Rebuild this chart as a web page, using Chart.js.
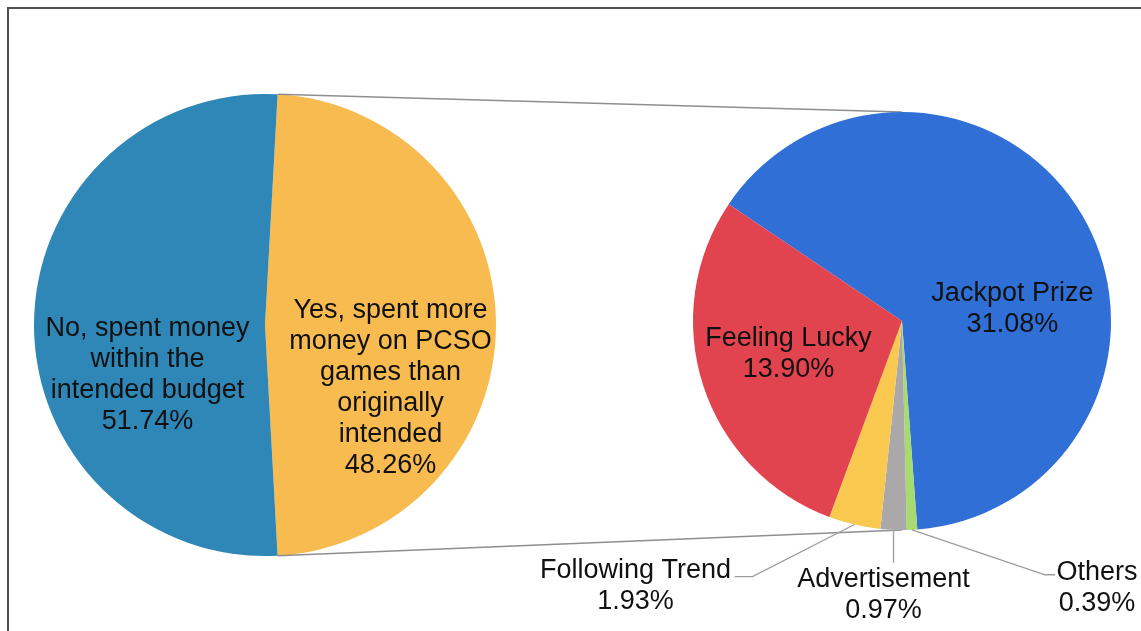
<!DOCTYPE html>
<html>
<head>
<meta charset="utf-8">
<script src="https://cdn.jsdelivr.net/npm/chart.js@4.4.1/dist/chart.umd.min.js"></script>
<style>
  html, body { margin: 0; padding: 0; background: #fff; overflow: hidden; }
  #wrap { position: relative; width: 1141px; height: 631px; overflow: hidden; }
  #frame { position: absolute; left: 7px; top: 7px; width: 1200px; height: 700px; border: 2px solid #505050; box-sizing: border-box; }
  canvas { position: absolute; left: 0; top: 0; }
</style>
</head>
<body>
<div id="wrap">
  <div id="frame"></div>
  <canvas id="spendPie" width="1141" height="631"></canvas>
  <canvas id="reasonPie" width="1141" height="631"></canvas>
</div>
<script>
// Did players spend more than they planned?
const spendLabels = [
    ['Yes, spent more', 'money on PCSO', 'games than', 'originally', 'intended'],
    ['No, spent money', 'within the', 'intended budget']
];
const spendValues = [48.26, 51.74];
const spendColors = ['#F8BB50', '#2E87B6'];

// Why they spent more (share of all respondents)
const reasonLabels = [['Jackpot Prize'], ['Others'], ['Advertisement'], ['Following Trend'], ['Feeling Lucky']];
const reasonValues = [31.08, 0.39, 0.97, 1.93, 13.90];
const reasonColors = ['#2F6FD6', '#A8DB6D', '#AAA8A8', '#F9C84F', '#E1434F'];

const FONT = '27px "Liberation Sans", Arial, sans-serif';
const LINE_H = 31;
const TEXT_COLOR = '#111111';

function pct(v) {
    return v.toFixed(2) + '%';
}

function drawLines(ctx, lines, x, y) {
    const top = y - (lines.length - 1) * LINE_H / 2;
    lines.forEach((t, i) => ctx.fillText(t, x, top + i * LINE_H));
}

function setText(ctx) {
    ctx.font = FONT;
    ctx.fillStyle = TEXT_COLOR;
    ctx.textAlign = 'center';
    ctx.textBaseline = 'middle';
}

// Labels drawn inside the slices, nudged from the slice centre
const insideLabels = {
    id: 'insideLabels',
    afterDatasetsDraw(chart, args, opts) {
        const ctx = chart.ctx;
        const meta = chart.getDatasetMeta(0);
        const values = chart.data.datasets[0].data;
        ctx.save();
        setText(ctx);
        meta.data.forEach((arc, i) => {
            const shift = opts.shift[i];
            if (!shift) return;
            const p = arc.tooltipPosition();
            drawLines(ctx, chart.data.labels[i].concat(pct(values[i])), p.x + shift[0], p.y + shift[1]);
        });
        ctx.restore();
    }
};

// Small slices get their labels outside with leader lines
const calloutLabels = {
    id: 'calloutLabels',
    afterDatasetsDraw(chart, args, opts) {
        const ctx = chart.ctx;
        const meta = chart.getDatasetMeta(0);
        const values = chart.data.datasets[0].data;
        ctx.save();
        ctx.strokeStyle = '#9c9c9c';
        ctx.lineWidth = 1.3;
        setText(ctx);
        meta.data.forEach((arc, i) => {
            const c = opts.items[i];
            if (!c) return;
            const mid = (arc.startAngle + arc.endAngle) / 2;
            const ex = arc.x + Math.cos(mid) * arc.outerRadius;
            const ey = arc.y + Math.sin(mid) * arc.outerRadius;
            ctx.beginPath();
            ctx.moveTo(ex, ey);
            c.leader.forEach(([dx, dy]) => ctx.lineTo(ex + dx, ey + dy));
            ctx.stroke();
            drawLines(ctx, chart.data.labels[i].concat(pct(values[i])), ex + c.label[0], ey + c.label[1]);
        });
        ctx.restore();
    }
};

// Lines joining the "Yes" slice to the breakdown pie
const joinLines = {
    id: 'joinLines',
    beforeDatasetsDraw(chart) {
        const src = spendChart.getDatasetMeta(0).data[0];
        const dst = chart.getDatasetMeta(0).data[0];
        const ctx = chart.ctx;
        const ends = [
            [src.startAngle, dst.y - dst.outerRadius],
            [src.endAngle, dst.y + dst.outerRadius]
        ];
        ctx.save();
        ctx.strokeStyle = '#8e8e8e';
        ctx.lineWidth = 1.5;
        ends.forEach(([a, ty]) => {
            ctx.beginPath();
            ctx.moveTo(src.x + Math.cos(a) * src.outerRadius, src.y + Math.sin(a) * src.outerRadius);
            ctx.lineTo(dst.x, ty);
            ctx.stroke();
        });
        ctx.restore();
    }
};

const spendTotal = spendValues.reduce((a, b) => a + b, 0);

const spendChart = new Chart(document.getElementById('spendPie'), {
    type: 'pie',
    data: {
        labels: spendLabels,
        datasets: [{
            data: spendValues,
            backgroundColor: spendColors,
            borderWidth: 0
        }]
    },
    options: {
        responsive: false,
        animation: false,
        events: [],
        // centre the "Yes" slice on the right-hand side
        rotation: 90 - spendValues[0] / spendTotal * 180,
        layout: { padding: { left: 34, top: 93, right: 645, bottom: 74 } },
        plugins: {
            legend: { display: false },
            tooltip: { enabled: false },
            insideLabels: { shift: [[10, 63], [-2, 50]] }
        }
    },
    plugins: [insideLabels]
});

new Chart(document.getElementById('reasonPie'), {
    type: 'pie',
    data: {
        labels: reasonLabels,
        datasets: [{
            data: reasonValues,
            backgroundColor: reasonColors,
            borderWidth: 0
        }]
    },
    options: {
        responsive: false,
        animation: false,
        events: [],
        rotation: -56,
        layout: { padding: { left: 693, top: 112, right: 30, bottom: 101 } },
        plugins: {
            legend: { display: false },
            tooltip: { enabled: false },
            insideLabels: { shift: [[20, 40], null, null, null, [-14, 1]] },
            calloutLabels: {
                items: [
                    null,
                    { leader: [[133, 45], [143, 45]], label: [185, 58] },
                    { leader: [[0, 33]], label: [-10, 65] },
                    { leader: [[-102, 52], [-120, 52]], label: [-219, 62] },
                    null
                ]
            }
        }
    },
    plugins: [joinLines, insideLabels, calloutLabels]
});
</script>
</body>
</html>
